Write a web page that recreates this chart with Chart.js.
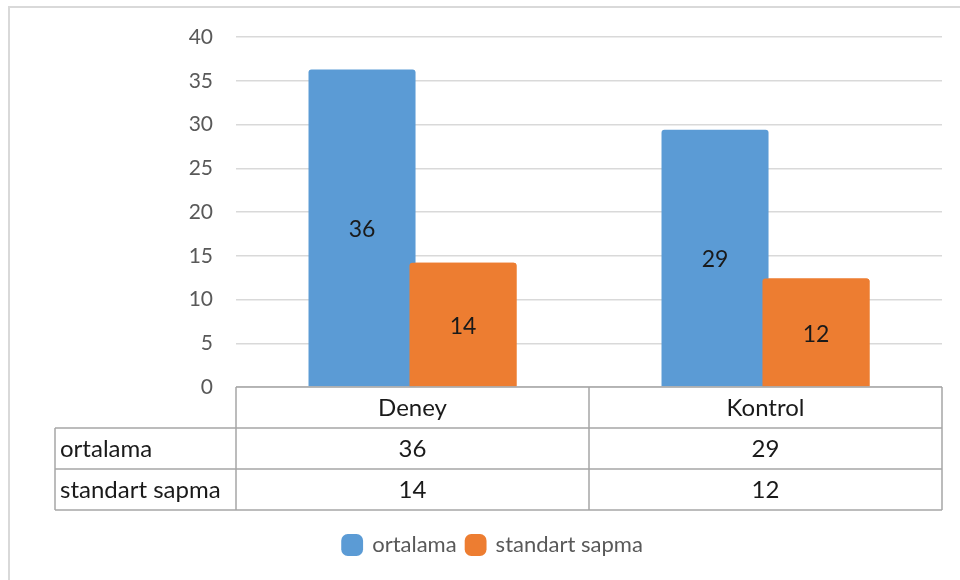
<!DOCTYPE html>
<html lang="tr">
<head>
    <meta charset="UTF-8">
    <title>Deney / Kontrol</title>
    <style>
        body {
            margin: 0;
            background: #ffffff;
        }
        .frame {
            width: 960px;
            height: 580px;
            position: relative;
        }
        canvas {
            display: block;
        }
    </style>
    <script src="https://cdn.jsdelivr.net/npm/chart.js"></script>
</head>
<body>
    <div class="frame">
        <canvas id="chart" width="960" height="580"></canvas>
    </div>

    <script>
        // chart data
        const groups = ['Deney', 'Kontrol'];
        const seriesNames = ['ortalama', 'standart sapma'];
        const ortalama = [36.3, 29.4];
        const standartSapma = [14.2, 12.4];
        const yTicks = [0, 5, 10, 15, 20, 25, 30, 35, 40];

        const FONT = 'Lato, "Open Sans", sans-serif';
        const GRAY = '#595959';

        // outer frame (top + left edge only, the rest is cropped)
        const framePlugin = {
            id: 'frame',
            beforeDraw(chart) {
                const ctx = chart.ctx;
                ctx.save();
                ctx.strokeStyle = '#d9d9d9';
                ctx.lineWidth = 2;
                ctx.beginPath();
                ctx.moveTo(9, 600);
                ctx.lineTo(9, 7);
                ctx.lineTo(980, 7);
                ctx.stroke();
                ctx.restore();
            }
        };

        // orange bars overlap the blue ones a little, then the values inside
        const barLabels = {
            id: 'barLabels',
            afterDatasetsDraw(chart) {
                const ctx = chart.ctx;
                ctx.save();
                chart.getDatasetMeta(1).data.forEach(el => el.draw(ctx));
                ctx.font = '23px ' + FONT;
                ctx.fillStyle = '#1a1a1a';
                ctx.textAlign = 'center';
                ctx.textBaseline = 'middle';
                chart.data.datasets.forEach((ds, i) => {
                    chart.getDatasetMeta(i).data.forEach((bar, j) => {
                        const v = Math.round(ds.data[j]);
                        ctx.fillText(String(v), bar.x, (bar.y + bar.base) / 2 + 2);
                    });
                });
                ctx.restore();
            }
        };

        // data table under the x axis
        const dataTable = {
            id: 'dataTable',
            afterDraw(chart) {
                const ctx = chart.ctx;
                const x = chart.scales.x;
                const area = chart.chartArea;
                const rowH = 41;
                const top = area.bottom;
                const labelLeft = 55;
                const left = area.left;
                const right = area.right;
                const rows = [ortalama, standartSapma];
                const bottom = top + rowH * (rows.length + 1);

                ctx.save();
                ctx.strokeStyle = '#a6a6a6';
                ctx.lineWidth = 1.5;
                ctx.beginPath();
                // horizontal lines
                ctx.moveTo(left, top); ctx.lineTo(right, top);
                for (let r = 1; r <= rows.length + 1; r++) {
                    ctx.moveTo(labelLeft, top + rowH * r);
                    ctx.lineTo(right, top + rowH * r);
                }
                // vertical lines
                ctx.moveTo(labelLeft, top + rowH); ctx.lineTo(labelLeft, bottom);
                ctx.moveTo(left, top); ctx.lineTo(left, bottom);
                const step = (right - left) / groups.length;
                for (let g = 1; g <= groups.length; g++) {
                    ctx.moveTo(left + step * g, top);
                    ctx.lineTo(left + step * g, bottom);
                }
                ctx.stroke();

                ctx.font = '24px ' + FONT;
                ctx.fillStyle = '#1a1a1a';
                ctx.textBaseline = 'middle';
                ctx.textAlign = 'center';
                groups.forEach((g, i) => {
                    const cx = x.getPixelForValue(i);
                    ctx.fillText(g, cx, top + rowH / 2 + 1);
                    rows.forEach((row, r) => {
                        ctx.fillText(String(Math.round(row[i])), cx, top + rowH * (r + 1.5) + 1);
                    });
                });
                ctx.textAlign = 'left';
                seriesNames.forEach((name, r) => {
                    ctx.fillText(name, labelLeft + 5, top + rowH * (r + 1.5) + 1);
                });
                ctx.restore();
            }
        };

        new Chart(document.getElementById('chart'), {
            type: 'bar',
            data: {
                labels: groups,
                datasets: [
                    {
                        label: seriesNames[0],
                        data: ortalama,
                        backgroundColor: '#5b9bd5'
                    },
                    {
                        label: seriesNames[1],
                        data: standartSapma,
                        backgroundColor: '#ed7d31'
                    }
                ]
            },
            options: {
                responsive: false,
                animation: false,
                categoryPercentage: 0.572,
                barPercentage: 1.06,
                borderRadius: { topLeft: 3, topRight: 3 },
                borderSkipped: 'bottom',
                layout: {
                    padding: { left: 44, right: 18, top: 37, bottom: 14 }
                },
                scales: {
                    x: {
                        grid: { display: false },
                        border: { display: false },
                        ticks: { display: false },
                        afterFit(scale) { scale.height = 137; }
                    },
                    y: {
                        min: 0,
                        max: 40,
                        afterBuildTicks(scale) {
                            scale.ticks = yTicks.map(v => ({ value: v }));
                        },
                        afterFit(scale) { scale.width = 236 - 44; },
                        grid: {
                            color: '#d9d9d9',
                            lineWidth: 1.5,
                            drawTicks: false
                        },
                        border: { display: false },
                        ticks: {
                            color: GRAY,
                            padding: 23,
                            font: { family: FONT, size: 21 }
                        }
                    }
                },
                plugins: {
                    legend: {
                        position: 'bottom',
                        labels: {
                            usePointStyle: true,
                            pointStyle: 'rectRounded',
                            boxWidth: 18,
                            boxHeight: 18,
                            padding: 10,
                            color: GRAY,
                            font: { family: FONT, size: 22 }
                        }
                    },
                    tooltip: { enabled: false }
                }
            },
            plugins: [framePlugin, barLabels, dataTable]
        });
    </script>
</body>
</html>
